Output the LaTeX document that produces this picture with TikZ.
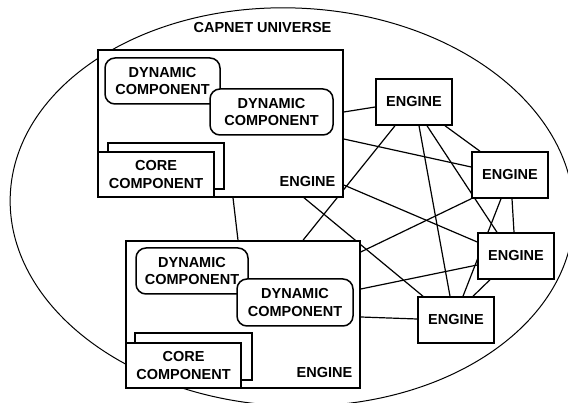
\documentclass[tikz,border=0pt]{standalone}
\usepackage{fontspec}
\setmainfont{Liberation Sans}
\usepackage{tikz}
\usetikzlibrary{backgrounds}

\begin{document}
\begin{tikzpicture}[x=1pt,y=-1pt,
  font=\bfseries\fontsize{14.5}{17.5}\selectfont,
  host/.style={draw,line width=1.5pt,fill=white,inner sep=0pt},
  engbox/.style={draw,line width=1.5pt,fill=white,minimum width=76pt,minimum height=46pt,inner sep=2pt},
  dyncomp/.style={draw,line width=1.5pt,fill=white,rounded corners=10pt,align=center,minimum height=46pt,inner sep=2pt},
  corecomp/.style={draw,line width=1.5pt,fill=white,align=center,inner sep=2pt},
  link/.style={line width=1.2pt}]
\useasboundingbox (0,0) rectangle (568,403);

% universe title
\node (title) at (262.5,28) {CAPNET UNIVERSE};

% first engine with its components
\node[host,minimum width=245pt,minimum height=147pt] (t) at (220.5,123.5) {};
\node[dyncomp,minimum width=115pt] (td1) at (162.5,81) {DYNAMIC\\COMPONENT};
\node[dyncomp,minimum width=123pt] (td2) at (271.5,112) {DYNAMIC\\COMPONENT};
\node[corecomp,minimum width=116pt,minimum height=46pt] (tcb) at (166,166) {};
\node[corecomp,minimum width=116pt,minimum height=45pt] (tcf) at (156,174.5) {CORE\\COMPONENT};
\node (tlab) at (307.5,181.5) {ENGINE};

% second engine with its components
\node[host,minimum width=234pt,minimum height=147pt] (b) at (243,314.5) {};
\node[dyncomp,minimum width=112pt] (bd1) at (192,271) {DYNAMIC\\COMPONENT};
\node[dyncomp,minimum width=116pt,minimum height=47pt] (bd2) at (295,302.5) {DYNAMIC\\COMPONENT};
\node[corecomp,minimum width=117pt,minimum height=47pt] (bcb) at (193.5,356.5) {};
\node[corecomp,minimum width=115pt,minimum height=45pt] (bcf) at (183.5,365.5) {CORE\\COMPONENT};
\node (blab) at (324.5,372.5) {ENGINE};

% plain engines
\node[engbox] (e1) at (414,102) {ENGINE};
\node[engbox] (e2) at (510,175) {ENGINE};
\node[engbox] (e3) at (516,256) {ENGINE};
\node[engbox] (e4) at (456,320) {ENGINE};

\begin{scope}[on background layer]
% universe border
\draw[line width=1pt,rotate around={-2.5:(292,207)}] (292,207) ellipse [x radius=282,y radius=199];
% connections
\draw[link] ([yshift=11.5pt]t.east) -- ([yshift=-5pt]e1.west);
\draw[link] ([yshift=-15.5pt]t.east) -- ([yshift=8pt]e2.west);
\draw[link] ([yshift=-61.5pt]t.east) -- ([yshift=14pt]e3.west);
\draw[link] ([xshift=83.5pt]t.south) -- ([xshift=-33pt]e4.north);
\draw[link] ([xshift=12.5pt]t.south) -- ([xshift=-5pt]b.north);
\draw[link] ([xshift=-19pt]e1.south) -- ([xshift=60pt]b.north);
\draw[link] ([yshift=62.5pt]b.east) -- (e2.south west);
\draw[link] ([yshift=25.5pt]b.east) -- ([yshift=-9pt]e3.west);
\draw[link] ([yshift=-2.5pt]b.east) -- ([yshift=1pt]e4.west);
\draw[link] ([xshift=5pt]e1.south) -- ([xshift=-6pt]e4.north);
\draw[link] ([xshift=13pt]e1.south) -- ([xshift=-19pt]e3.north);
\draw[link] ([xshift=31pt]e1.south) -- ([xshift=-30pt]e2.north);
\draw[link] ([xshift=-9pt]e2.south) -- ([xshift=7pt]e4.north);
\draw[link] ([xshift=2pt]e2.south) -- ([xshift=-2pt]e3.north);
\draw[link] ([xshift=-26pt]e3.south) -- ([xshift=17pt]e4.north);
\end{scope}
\end{tikzpicture}
\end{document}
